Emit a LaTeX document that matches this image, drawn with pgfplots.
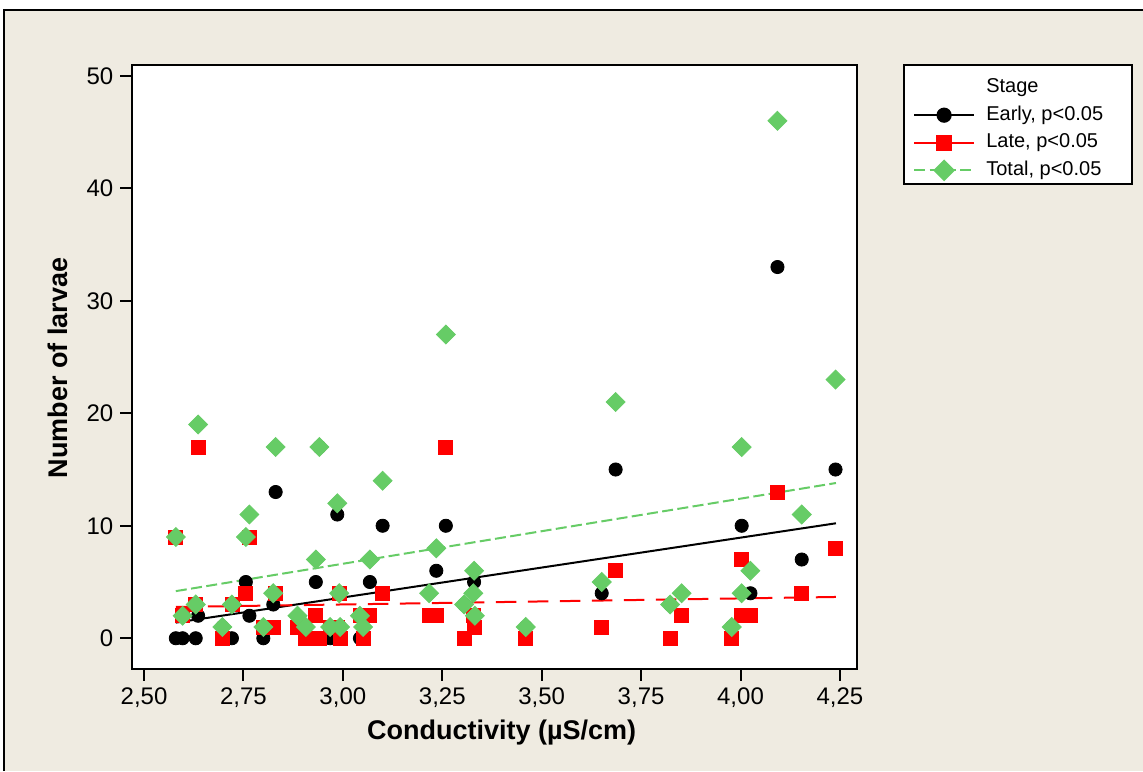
\documentclass[border=0pt]{standalone}
\usepackage{fontspec}
\setmainfont{Liberation Sans}
\usepackage{pgfplots}
\usepackage{pgfplotstable}
\pgfplotsset{compat=1.18}

\definecolor{bgbeige}{RGB}{239,235,225}
\definecolor{mgreen}{RGB}{102,204,102}

% conductivity, early / late larvae and their total per sample
\pgfplotstableread{
x     early late total
2.580 0  9  9
2.597 0  2  2
2.630 0  3  3
2.636 2  17 19
2.697 1  0  1
2.721 0  3  3
2.756 5  4  9
2.765 2  9  11
2.800 0  1  1
2.825 3  1  4
2.831 13 4  17
2.886 1  1  2
2.907 1  0  1
2.932 5  2  7
2.941 17 0  17
2.968 0  1  1
2.986 11 1  12
2.991 0  4  4
2.993 1  0  1
3.043 0  2  2
3.051 1  0  1
3.068 5  2  7
3.100 10 4  14
3.217 2  2  4
3.235 6  2  8
3.259 10 17 27
3.305 3  0  3
3.328 2  2  4
3.330 5  1  6
3.332 1  1  2
3.460 1  0  1
3.651 4  1  5
3.686 15 6  21
3.823 3  0  3
3.852 2  2  4
3.978 1  0  1
4.003 10 7  17
4.003 2  2  4
4.025 4  2  6
4.093 33 13 46
4.154 7  4  11
4.239 15 8  23
}\larvae

\begin{document}
\begin{tikzpicture}[x=1pt,y=1pt]
\useasboundingbox (0,0) rectangle (571.5,385.5);
\fill[white] (0,0) rectangle (571.5,385.5);
\fill[bgbeige] (2,0) rectangle (571.5,380.5);
\draw[line width=0.6pt] (2,0) -- (2,380.5) -- (571.5,380.5);
% legend frame
\filldraw[fill=white, line width=1pt] (452,353) rectangle (566,293.5);

\begin{axis}[
    at={(65.85pt,50.85pt)}, anchor=south west,
    width=362.65pt, height=302.15pt, scale only axis,
    xmin=2.469, xmax=4.293, ymin=-2.76, ymax=50.96,
    xtick={2.5,2.75,3,3.25,3.5,3.75,4,4.25},
    ytick={0,10,20,30,40,50},
    tick pos=left, tick align=outside,
    major tick length=5.7pt,
    axis background/.style={fill=white},
    axis line style={line width=1pt},
    every tick/.style={black, line width=1pt},
    /pgf/number format/assume math mode=true,
    ticklabel style={font=\fontsize{12}{14}\selectfont},
    xticklabel style={/pgf/number format/.cd, fixed, fixed zerofill, precision=2, use comma},
    xlabel={Conductivity (µS/cm)},
    ylabel={Number of larvae},
    xlabel style={at={(axis description cs:0.51,-0.1038)}, anchor=center,
                  font=\bfseries\fontsize{13.5}{16}\selectfont},
    ylabel style={at={(axis description cs:-0.1016,0.4986)}, anchor=center,
                  font=\bfseries\fontsize{13.5}{16}\selectfont},
    legend style={at={(axis description cs:1.0768,0.9815)}, anchor=north west,
                  draw=none, fill=none, font=\fontsize{10}{12}\selectfont,
                  row sep=2.8pt, column sep=5.6pt, inner sep=0pt,
                  nodes={inner sep=0pt, text height=8pt, text depth=3pt}},
    legend cell align=left,
    legend image code/.code={\draw[mark repeat=2,mark phase=2,#1] plot coordinates {(0pt,0pt) (15pt,0pt) (30pt,0pt)};},
]
% fitted lines
\addplot[black, line width=1pt, forget plot] coordinates {(2.58,1.39) (4.24,10.22)};
\addplot[red, line width=1pt, dash pattern=on 10.3pt off 5.7pt, forget plot] coordinates {(2.58,2.78) (4.24,3.67)};
\addplot[mgreen, line width=1pt, dash pattern=on 5.5pt off 2.2pt, forget plot] coordinates {(2.58,4.19) (4.24,13.8)};
% points
\addplot[only marks, mark=*, mark size=3.3pt, black, forget plot] table[x=x,y=early]{\larvae};
\addplot[only marks, mark=square*, mark size=3.5pt, red, forget plot] table[x=x,y=late]{\larvae};
\addplot[only marks, mark=square*, mark size=3.35pt, mark options={rotate=45}, mgreen, forget plot] table[x=x,y=total]{\larvae};
% legend
\addlegendimage{empty legend}
\addlegendentry{Stage}
\addlegendimage{black, line width=1pt, mark=*, mark size=3.3pt}
\addlegendentry{Early, p<0.05}
\addlegendimage{red, line width=1pt, mark=square*, mark size=3.5pt}
\addlegendentry{Late, p<0.05}
\addlegendimage{mgreen, line width=1pt, dash pattern=on 5.5pt off 2.2pt, mark=square*, mark size=3.35pt, mark options={rotate=45, solid}}
\addlegendentry{Total, p<0.05}
\end{axis}
\end{tikzpicture}
\end{document}
